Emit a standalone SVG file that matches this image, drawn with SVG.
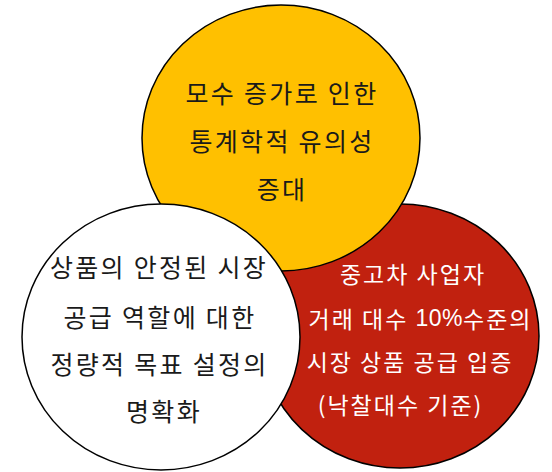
<svg xmlns="http://www.w3.org/2000/svg" width="552" height="472" viewBox="0 0 552 472">
<style>
.c{stroke:#000;stroke-width:1.5}
text{font-family:"Noto Sans CJK KR","Noto Sans",sans-serif;font-size:25px;letter-spacing:2.3px;text-anchor:middle;dominant-baseline:central}
.d{fill:#1a1a1a}
.w{fill:#fff}
.w text{font-size:23px;letter-spacing:2px}
.n{font-family:"Liberation Sans",Arial,sans-serif;letter-spacing:0.5px}
</style>
<rect width="552" height="472" fill="#fff"/>
<g id="red">
<ellipse class="c" cx="400" cy="336" rx="139" ry="132" fill="#C1210F"/>
</g>
<g id="yellow">
<ellipse class="c" cx="281" cy="138" rx="139" ry="133" fill="#FFC000"/>
</g>
<g id="white">
<ellipse class="c" cx="161" cy="337" rx="139" ry="133" fill="#fff"/>
</g>
<g id="connectors"/>
<g id="yellow-text" class="d">
<text x="282" y="92">모수 증가로 인한</text>
<text x="282" y="140">통계학적 유의성</text>
<text x="282" y="187.5">증대</text>
</g>
<g id="white-text" class="d">
<text x="159" y="266">상품의 안정된 시장</text>
<text x="160" y="316">공급 역할에 대한</text>
<text x="159.5" y="363">정량적 목표 설정의</text>
<text x="164" y="410">명확화</text>
</g>
<g id="red-text" class="w">
<text x="413" y="273">중고차 사업자</text>
<text x="420.5" y="318">거래 대수 <tspan class="n">10%</tspan>수준의</text>
<text x="410" y="361">시장 상품 공급 입증</text>
<text x="400.5" y="404">(낙찰대수 기준)</text>
</g>
</svg>
